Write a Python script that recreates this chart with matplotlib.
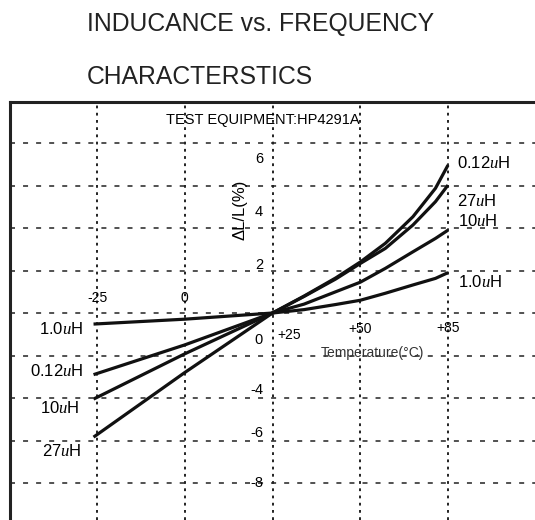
import matplotlib
matplotlib.use('Agg')
import matplotlib.pyplot as plt
import numpy as np

plt.rcParams['font.family'] = ['Liberation Sans', 'DejaVu Sans']
plt.rcParams['mathtext.fontset'] = 'custom'
plt.rcParams['mathtext.rm'] = 'Liberation Sans'
plt.rcParams['mathtext.it'] = 'Liberation Serif:italic'
plt.rcParams['lines.scale_dashes'] = False

# temperature grid (deg C) and the readings of dL/L (%)
grid_temps = [-25, 0, 25, 50, 85]
grid_labels = ['-25', '0', '+25', '+50', '+85']
temps = [-26, 0, 25, 34, 43, 50, 60, 71, 80, 85]
l_012 = [-2.9, -1.5, 0, 0.8, 1.65, 2.4, 3.28, 4.53, 5.87, 6.96]
l_27 = [-5.84, -2.8, 0, 0.78, 1.6, 2.33, 3.04, 4.14, 5.24, 6.02]
l_10 = [-4.05, -1.92, 0, 0.42, 1.0, 1.45, 2.1, 2.88, 3.51, 3.9]
l_1 = [-0.52, -0.29, 0, 0.16, 0.4, 0.6, 0.93, 1.32, 1.63, 1.9]
y_grid = [-8, -6, -4, -2, 0, 2, 4, 6, 8]
y_labels = ['6', '4', '2', '0', '-4', '-6', '-8']

# the drawing puts the grid temperatures at equal steps
TK = np.array(grid_temps, float)
PK = np.arange(len(TK), dtype=float)


def fwd(t):
    t = np.asarray(t, float)
    p = np.interp(t, TK, PK)
    p = np.where(t < TK[0], (t - TK[0]) / 25.0, p)
    p = np.where(t > TK[-1], PK[-1] + (t - TK[-1]) / 35.0, p)
    return p


def inv(p):
    p = np.asarray(p, float)
    t = np.interp(p, PK, TK)
    t = np.where(p < 0, TK[0] + p * 25.0, t)
    t = np.where(p > PK[-1], TK[-1] + (p - PK[-1]) * 35.0, t)
    return t


fig = plt.figure(figsize=(5.35, 5.2), dpi=100)
fig.text(87 / 535, 1 - 24 / 520, 'INDUCANCE vs. FREQUENCY', fontsize=17.8,
         ha='left', va='center', color='#222222')
fig.text(87 / 535, 1 - 77 / 520, 'CHARACTERSTICS', fontsize=17.8,
         ha='left', va='center', color='#222222')

ax = fig.add_axes([10 / 535, 0, 525 / 535, 418 / 520])
ax.set_xscale('function', functions=(fwd, inv))
ax.set_xlim(-49.8, 119.7)
ax.set_ylim(-9.74, 9.93)

for s in ['right', 'bottom']:
    ax.spines[s].set_visible(False)
for s in ['left', 'top']:
    ax.spines[s].set_linewidth(2.2)
    ax.spines[s].set_color('#222222')

ax.set_xticks(grid_temps)
ax.set_yticks(y_grid)
ax.set_xticklabels([])
ax.set_yticklabels([])
ax.tick_params(length=0)
ax.xaxis.grid(True, color='#222222', linewidth=1.4, linestyle=(0, (2.0, 3.2)))
ax.yaxis.grid(True, color='#222222', linewidth=1.1, linestyle=(0, (3.6, 5.8)))
ax.set_axisbelow(True)

for vals in [l_012, l_27, l_10, l_1]:
    ax.plot(temps, vals, color='#111111', linewidth=2.3, solid_capstyle='butt')

# tick labels written inside the plot, as in the drawing
ax.text(-25, 0.73, grid_labels[0], fontsize=10, ha='center', va='center')
ax.text(0, 0.73, grid_labels[1], fontsize=10, ha='center', va='center')
ax.text(26.5, -1.03, grid_labels[2], fontsize=10, ha='left', va='center')
ax.text(50, -0.75, grid_labels[3], fontsize=10, ha='center', va='center')
ax.text(85, -0.7, grid_labels[4], fontsize=10, ha='center', va='center')
for lab, yy in zip(y_labels, [7.27, 4.75, 2.26, -1.27, -3.62, -5.65, -8.0]):
    ax.text(22.3, yy, lab, fontsize=10.5, ha='right', va='center')

ax.text(15.7, 4.85, '\u0394L/L(%)', fontsize=12, rotation=90,
        ha='center', va='center')
ax.text(54.7, -1.88, 'Temperature(\u00b0C)', fontsize=10, ha='center',
        va='center', color='#333333')
ax.text(22.3, 9.08, 'TEST EQUIPMENT:HP4291A', fontsize=10.5, ha='center',
        va='center')

uh = r'$\mathit{u}$H'
ax.text(88.6, 7.08, '0.12' + uh, fontsize=12, ha='left', va='center')
ax.text(88.6, 5.27, '27' + uh, fontsize=12, ha='left', va='center')
ax.text(89.0, 4.33, '10' + uh, fontsize=12, ha='left', va='center')
ax.text(88.8, 1.44, '1.0' + uh, fontsize=12, ha='left', va='center')
ax.text(-29, -0.75, '1.0' + uh, fontsize=12, ha='right', va='center')
ax.text(-29, -2.73, '0.12' + uh, fontsize=12, ha='right', va='center')
ax.text(-30, -4.45, '10' + uh, fontsize=12, ha='right', va='center')
ax.text(-29.5, -6.49, '27' + uh, fontsize=12, ha='right', va='center')

fig.savefig('out.png', dpi=100)
